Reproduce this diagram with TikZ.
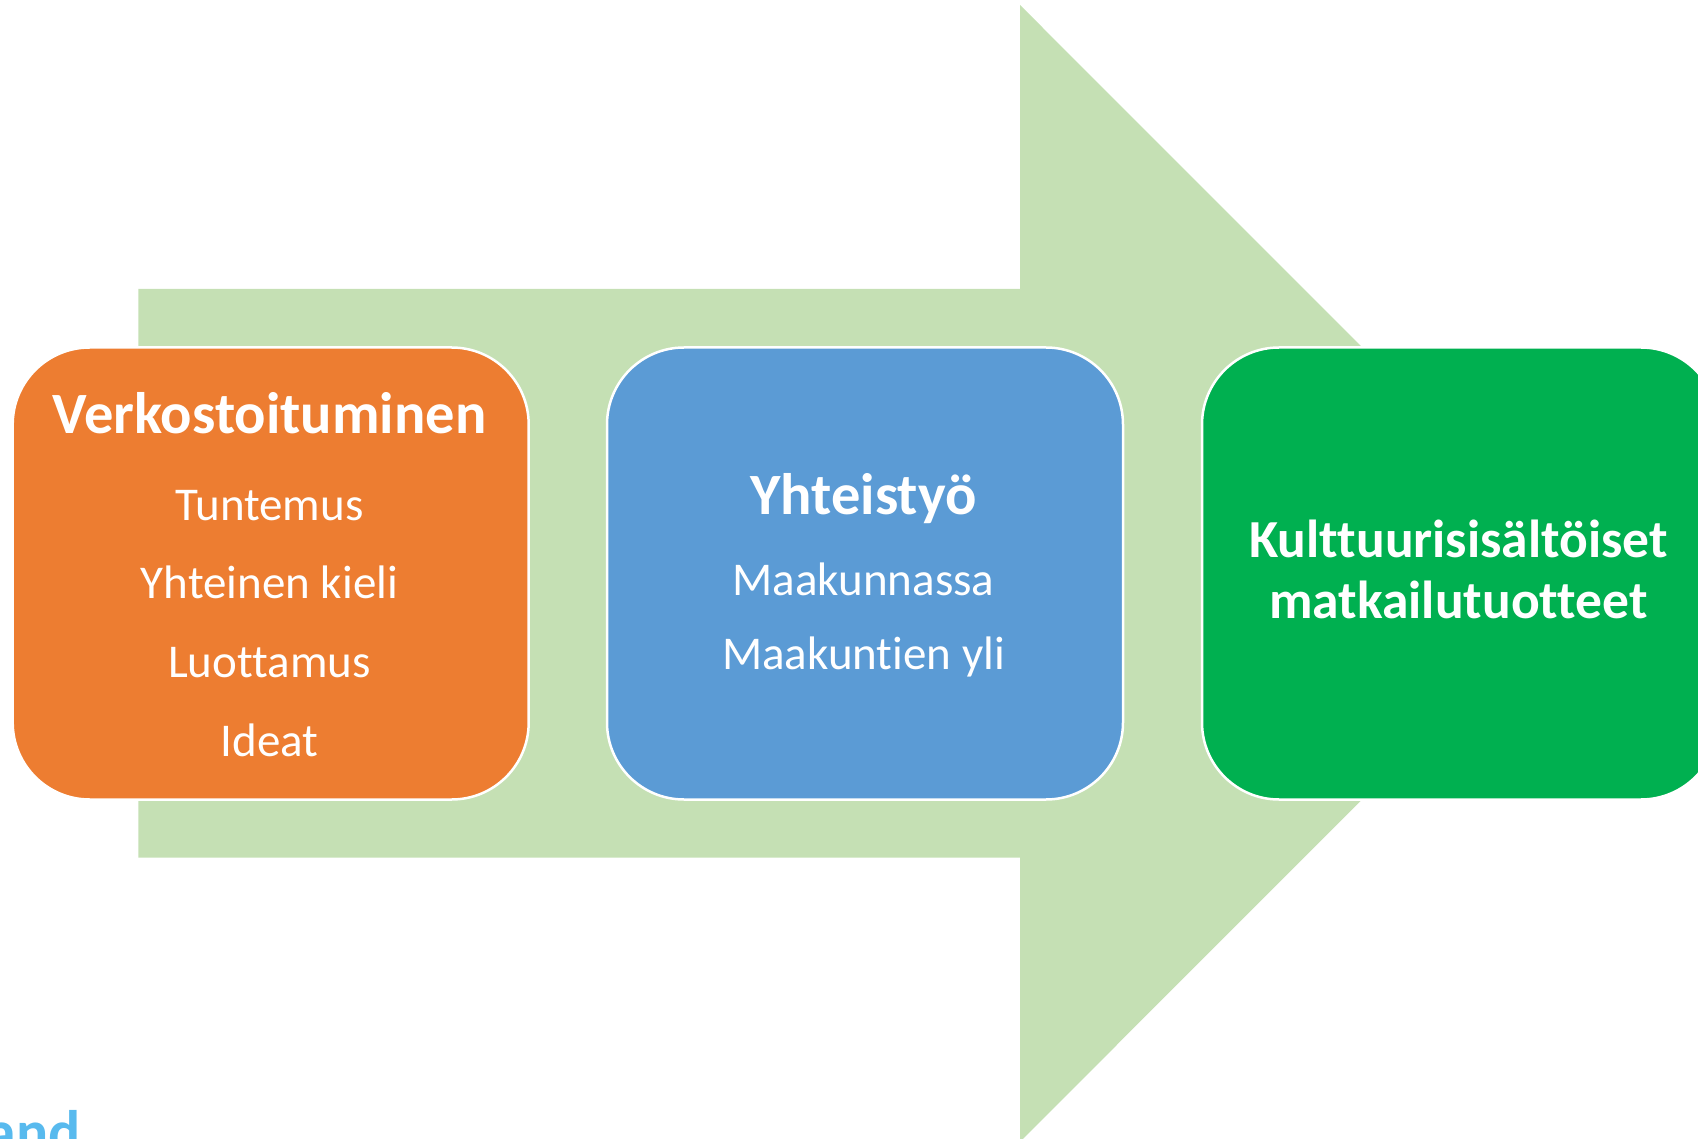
\documentclass[tikz,border=0pt]{standalone}
\usepackage{fontspec}
\setmainfont{Carlito}[Ligatures=NoCommon]
\definecolor{arrowgreen}{RGB}{197,224,180}
\definecolor{boxorange}{RGB}{237,125,49}
\definecolor{boxblue}{RGB}{91,155,213}
\definecolor{boxgreen}{RGB}{0,176,80}
\definecolor{logoblue}{RGB}{88,186,238}
\begin{document}
\begin{tikzpicture}[x=1pt,y=-1pt,
  stepbox/.style={draw=white,line width=2.5pt,rounded corners=77pt,minimum width=516pt,minimum height=452pt,inner sep=0pt},
  headtext/.style={text=white,font=\bfseries\fontsize{58.5}{68}\selectfont,anchor=base,inner sep=0pt},
  prodtext/.style={text=white,font=\bfseries\fontsize{53.5}{60}\selectfont,anchor=base,inner sep=0pt},
  itemtext/.style={text=white,font=\fontsize{47}{56}\selectfont,anchor=base,inner sep=0pt}
  ]
\useasboundingbox (0,0) rectangle (1698,1139);
\fill[arrowgreen] (138.3,289) -- (1020,289) -- (1020,5) -- (1588,573.4) -- (1020,1141.8) -- (1020,857.7) -- (138.3,857.7) -- cycle;
\node[stepbox,fill=boxorange] (net) at (270.7,573.5) {};
\node[stepbox,fill=boxblue] (coop) at (865,573.5) {};
\node[stepbox,fill=boxgreen] (prod) at (1460,573.5) {};
\node[headtext] (netT) at (269.5,433.3) {Verkostoituminen};
\node[itemtext] (n1) at (269.5,520) {Tuntemus};
\node[itemtext] (n2) at (269.5,598.3) {Yhteinen kieli};
\node[itemtext] (n3) at (269.5,677.3) {Luottamus};
\node[itemtext] (n4) at (269.5,756.7) {Ideat};
\node[headtext] (coopT) at (863.5,514) {Yhteistyö};
\node[itemtext] (c1) at (863.5,595) {Maakunnassa};
\node[itemtext] (c2) at (863.5,669.3) {Maakuntien yli};
\node[prodtext] (prodT1) at (1458.4,557.3) {Kulttuurisisältöiset};
\node[prodtext] (prodT2) at (1458.4,618.3) {matkailutuotteet};
\node[text=logoblue,font=\bfseries\fontsize{60}{62}\selectfont,anchor=base east,inner sep=0pt] (logo) at (81,1152) {land};
\end{tikzpicture}
\end{document}
